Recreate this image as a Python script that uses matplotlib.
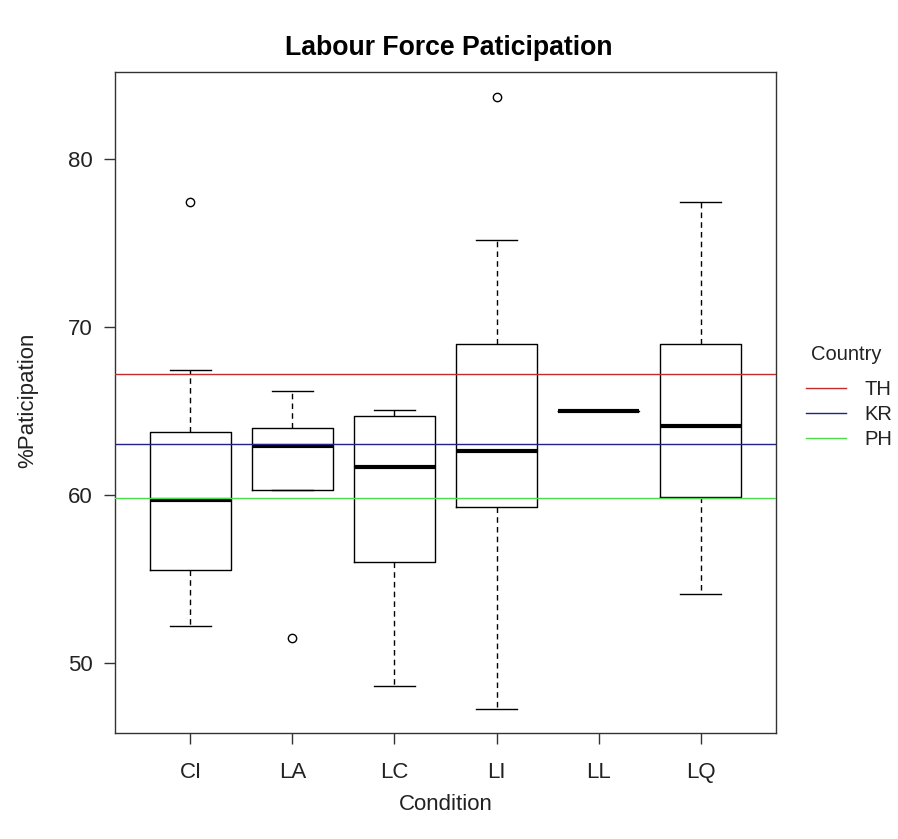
import matplotlib
matplotlib.use("Agg")
import matplotlib.pyplot as plt
from matplotlib.lines import Line2D

plt.rcParams['font.family'] = ['Liberation Sans', 'DejaVu Sans']

# Five-number summaries per condition (lower whisker, Q1, median, Q3, upper whisker)
conditions = ["CI", "LA", "LC", "LI", "LL", "LQ"]
whisker_low = [52.2, 60.3, 48.65, 47.25, 65.0, 54.1]
q1 = [55.5, 60.3, 56.0, 59.25, 65.0, 59.85]
medians = [59.7, 62.9, 61.65, 62.6, 65.0, 64.1]
q3 = [63.75, 64.0, 64.7, 69.0, 65.0, 69.0]
whisker_high = [67.4, 66.15, 65.05, 75.15, 65.0, 77.4]
outliers = [[77.4], [51.5], [], [83.65], [], []]

# Country reference levels
countries = ["TH", "KR", "PH"]
country_levels = [67.17, 63.0, 59.8]
country_colors = ["#c42c2c", "#22228c", "#4cdc4c"]

title = "Labour Force Paticipation"
x_label = "Condition"
y_label = "%Paticipation"
legend_title = "Country"
y_ticks = [50, 60, 70, 80]

W, H = 898, 839
fig = plt.figure(figsize=(W / 100, H / 100), dpi=100)
ax = fig.add_axes([115 / W, 1 - 733 / H, 661 / W, 661 / H])

stats = []
for i, name in enumerate(conditions):
    stats.append(dict(label=name, whislo=whisker_low[i], q1=q1[i], med=medians[i],
                      q3=q3[i], whishi=whisker_high[i], fliers=outliers[i]))

positions = list(range(1, len(conditions) + 1))
ax.bxp(stats, positions=positions, widths=0.8, showfliers=True,
       boxprops=dict(color="black", linewidth=1.0),
       whiskerprops=dict(color="black", linewidth=1.0, linestyle=(0, (4, 3))),
       capprops=dict(color="black", linewidth=1.0),
       capwidths=0.4,
       medianprops=dict(color="black", linewidth=3.0, solid_capstyle="butt"),
       flierprops=dict(marker="o", markerfacecolor="none", markeredgecolor="black",
                       markersize=6, markeredgewidth=1.0),
       zorder=2)

for lvl, col in zip(country_levels, country_colors):
    ax.axhline(lvl, color=col, linewidth=1.0, zorder=3)

ax.set_xlim(0.26, 6.74)
ax.set_ylim(45.83, 85.16)
ax.set_xticks(positions)
ax.set_xticklabels(conditions)
ax.set_yticks(y_ticks)
ax.tick_params(axis="both", direction="out", length=8, width=1.0, labelsize=16,
               color="#333333", labelcolor="#222222")
ax.tick_params(axis="y", pad=8)
ax.tick_params(axis="x", pad=13)
for sp in ax.spines.values():
    sp.set_color("#333333")
    sp.set_linewidth(1.0)

fig.text(0.5, 1 - 48 / H, title, ha="center", va="center", fontsize=19.2,
         fontweight="bold")
fig.text(446 / W, 1 - 805 / H, x_label, ha="center", va="center", fontsize=16,
         color="#222222")
fig.text(28 / W, 1 - 400 / H, y_label, ha="center", va="center", fontsize=16,
         rotation=90, color="#222222")

fig.text(811 / W, 1 - 355 / H, legend_title, ha="left", va="center", fontsize=14.5,
         color="#222222")
handles = [Line2D([0], [0], color=c, linewidth=1.0) for c in country_colors]
leg = fig.legend(handles, countries, loc="upper left",
                 bbox_to_anchor=(806 / W, 1 - 380 / H),
                 frameon=False, fontsize=14.5, handlelength=2.0,
                 handletextpad=0.9, labelspacing=0.3, borderpad=0,
                 borderaxespad=0)
for t in leg.get_texts():
    t.set_color("#222222")

fig.savefig("out.png", dpi=100)
